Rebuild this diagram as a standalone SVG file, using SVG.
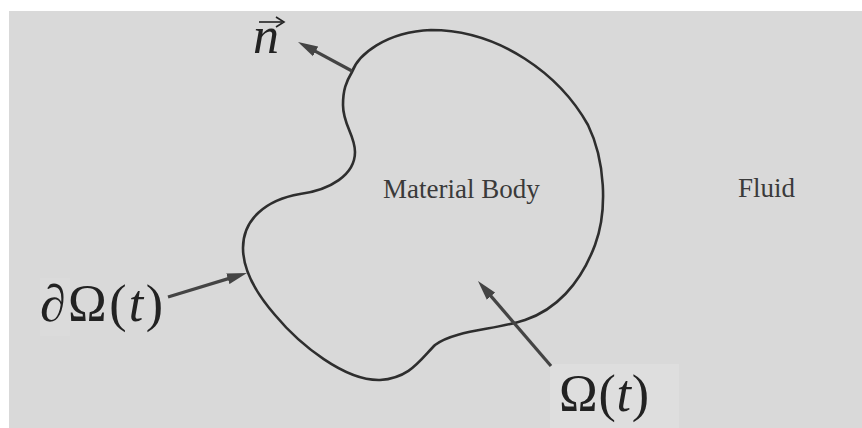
<svg xmlns="http://www.w3.org/2000/svg" width="862" height="428" viewBox="0 0 862 428">
  <style>
    .math { font-family: "Liberation Serif", "DejaVu Serif", serif; fill: #222222; }
    .label { font-family: "Liberation Serif", "Times New Roman", serif; font-size: 27px; fill: #3a3a3a; }
    .body { fill: none; stroke: #2e2e2e; stroke-width: 2.6; stroke-linejoin: round; }
    .conn { fill: none; stroke: #444; stroke-width: 3.2; }
  </style>
  <defs>
    <marker id="ah" markerUnits="userSpaceOnUse" markerWidth="22" markerHeight="12" refX="10" refY="6" orient="auto">
      <path d="M0,0.5 L20,6 L0,11.5 Z" fill="#444"/>
    </marker>
  </defs>
  <rect x="0" y="0" width="862" height="428" fill="#ffffff"/>
  <rect x="9" y="11" width="853" height="417" fill="#d9d9d9"/>
  <rect x="550" y="364" width="129" height="64" fill="#dedede"/>
  <rect x="40" y="278" width="30" height="58" fill="#dbdbdb"/>

  <g id="material-body">
    <path class="body" d="M352,72 C358,55 385,32 431,30 C500,30 560,75 588,125 C605,160 608,210 595,245 C580,285 555,310 525,320 C495,330 455,330 435,345 C420,360 410,378 380,380 C345,381 300,345 275,315 C255,292 243,270 243,248 C243,220 265,200 300,194 C330,190 355,175 355,152 C355,135 343,125 343,105 C343,90 346,82 352,72 Z"/>
    <text class="label" x="383" y="198">Material Body</text>
  </g>

  <g id="fluid">
    <text class="label" x="738" y="197">Fluid</text>
  </g>

  <g id="normal-label">
    <text class="math" x="253" y="53" font-size="52" font-style="italic">n</text>
    <path d="M259,22 L282,22" stroke="#222" stroke-width="1.6" fill="none"/>
    <path d="M276,17 L284,22 L276,27" stroke="#222" stroke-width="1.6" fill="none" stroke-linejoin="miter"/>
  </g>

  <g id="boundary-label">
    <text class="math" x="40" y="321" font-size="52" textLength="123" lengthAdjust="spacing">∂Ω(<tspan font-style="italic">t</tspan>)</text>
  </g>

  <g id="domain-label">
    <text class="math" x="559" y="411" font-size="52" textLength="90" lengthAdjust="spacing">Ω(<tspan font-style="italic">t</tspan>)</text>
  </g>

  <g id="connectors">
    <line class="conn" x1="352" y1="71" x2="306.8" y2="46.7" marker-end="url(#ah)"/>
    <line class="conn" x1="168" y1="297" x2="237.4" y2="275.9" marker-end="url(#ah)"/>
    <line class="conn" x1="551" y1="366" x2="484.5" y2="288.6" marker-end="url(#ah)"/>
  </g>
</svg>
